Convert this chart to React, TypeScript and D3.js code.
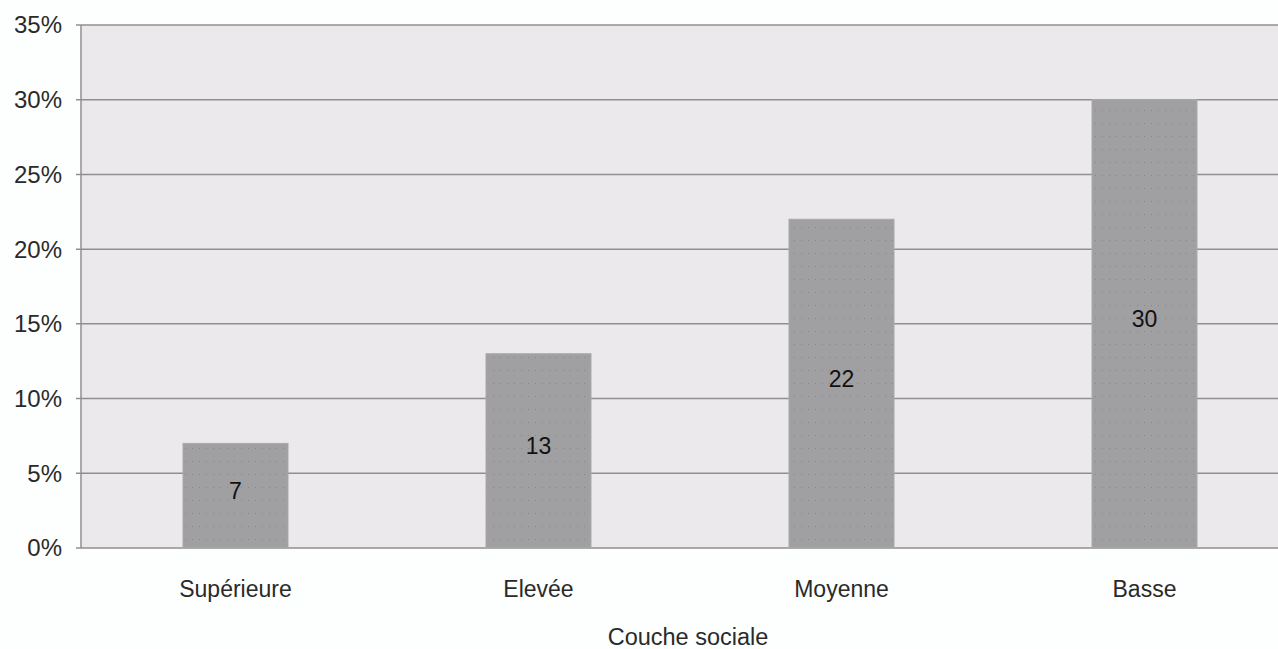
import React from "react";
import * as d3 from "d3";

const categories = ["Supérieure", "Elevée", "Moyenne", "Basse"];
const values = [7, 13, 22, 30];
const yTicks = [0, 5, 10, 15, 20, 25, 30, 35];
const xTitle = "Couche sociale";

const W = 1278;
const H = 649;
const left = 81;
const top = 25;
const bottom = 548;
const font = "'Liberation Sans', Arial, sans-serif";

export default function App() {
  const x = d3
    .scaleBand<string>()
    .domain(categories)
    .range([84, 1296])
    .paddingInner(0.6535)
    .paddingOuter(0.32675);
  const y = d3.scaleLinear().domain([0, 35]).range([bottom, top]);

  return (
    <svg
      width={W}
      height={H}
      style={{ position: "absolute", left: 0, top: 0, background: "#fdfefe" }}
    >
      <defs>
        <pattern id="dots" width={7} height={13} patternUnits="userSpaceOnUse">
          <rect width={7} height={13} fill="#a09fa1" />
          <rect x={3} y={6} width={1} height={1} fill="#868587" />
        </pattern>
      </defs>
      <rect x={left} y={top} width={W - left} height={bottom - top} fill="#ece9ed" />
      {yTicks.map((t) => (
        <g key={t}>
          <line
            x1={left - 5}
            x2={W}
            y1={y(t)}
            y2={y(t)}
            stroke="#8f8f8f"
            strokeWidth={1.5}
          />
          <text
            x={62}
            y={y(t)}
            dy="0.35em"
            textAnchor="end"
            fontFamily={font}
            fontSize={24}
            fill="#2a2a2a"
          >
            {t}%
          </text>
        </g>
      ))}
      <line x1={left} x2={left} y1={top} y2={bottom} stroke="#8f8f8f" strokeWidth={1.5} />
      {categories.map((c, i) => {
        const bx = x(c)!;
        const by = y(values[i]);
        const bh = bottom - by;
        return (
          <g key={c}>
            <rect
              x={bx}
              y={by}
              width={x.bandwidth()}
              height={bh}
              fill="url(#dots)"
              stroke="#aaa9ab"
              strokeWidth={1}
            />
            <text
              x={bx + x.bandwidth() / 2}
              y={by + bh / 2 - 5}
              dy="0.35em"
              textAnchor="middle"
              fontFamily={font}
              fontSize={23}
              fill="#111"
            >
              {values[i]}
            </text>
            <text
              x={bx + x.bandwidth() / 2}
              y={597}
              textAnchor="middle"
              fontFamily={font}
              fontSize={23}
              fill="#2a2a2a"
            >
              {c}
            </text>
          </g>
        );
      })}
      <text
        x={688}
        y={645}
        textAnchor="middle"
        fontFamily={font}
        fontSize={23.5}
        fill="#2a2a2a"
      >
        {xTitle}
      </text>
    </svg>
  );
}
